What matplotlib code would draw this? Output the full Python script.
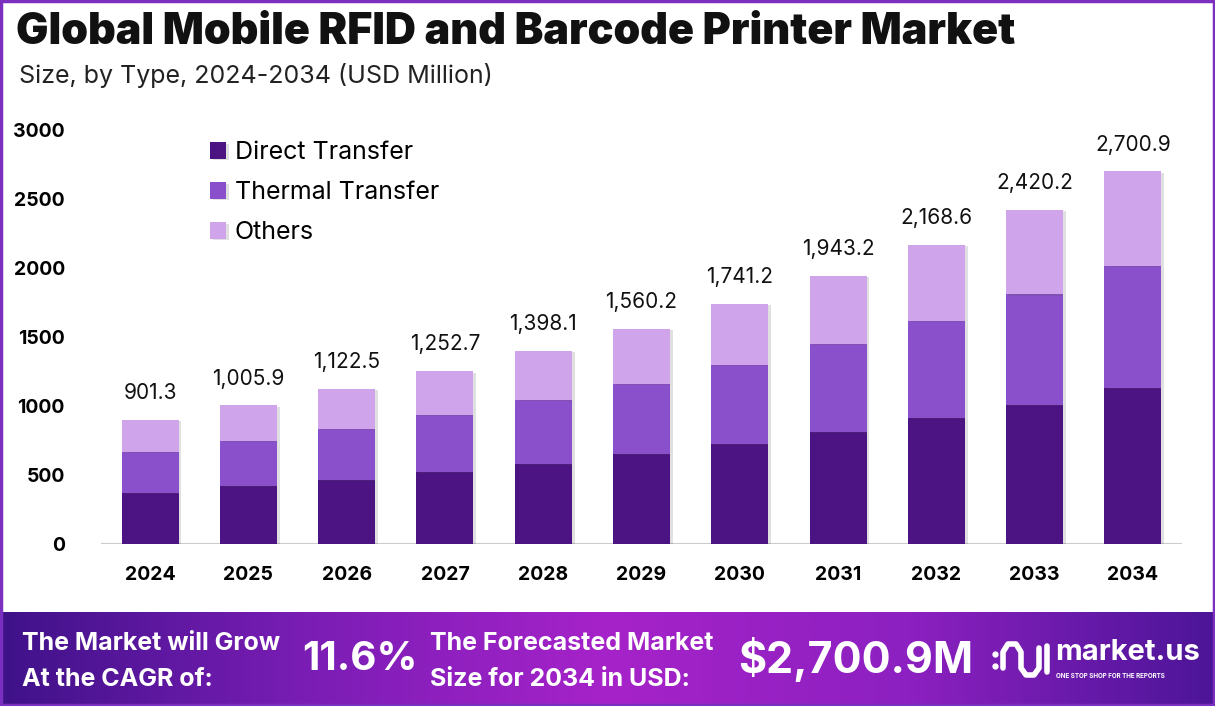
import matplotlib
matplotlib.use("Agg")
import matplotlib.pyplot as plt
import numpy as np
from matplotlib.colors import LinearSegmentedColormap
from matplotlib.patches import Rectangle
import matplotlib.patheffects as pe

years = ["2024", "2025", "2026", "2027", "2028", "2029", "2030", "2031", "2032", "2033", "2034"]
direct = [370, 420, 464, 522, 580, 652, 725, 812, 913, 1008, 1131]
thermal = [297, 327, 370, 416, 464, 508, 573, 638, 706, 802, 884]
others = [234.3, 258.9, 288.5, 314.7, 354.1, 400.2, 443.2, 493.2, 549.6, 610.2, 685.9]
totals = [901.3, 1005.9, 1122.5, 1252.7, 1398.1, 1560.2, 1741.2, 1943.2, 2168.6, 2420.2, 2700.9]
series_names = ["Direct Transfer", "Thermal Transfer", "Others"]
colors = ["#4B1482", "#8A4FCB", "#CFA4EA"]
yticks = [0, 500, 1000, 1500, 2000, 2500, 3000]

FONT = ["Inter", "DejaVu Sans"]
plt.rcParams["font.family"] = FONT

W, H = 1215, 706
fig = plt.figure(figsize=(W / 100, H / 100), dpi=100)
fig.patch.set_facecolor("white")

ax = fig.add_axes([101 / W, 1 - 544 / H, 1081 / W, 414 / H])
x = np.arange(len(years))
shadow = [pe.SimplePatchShadow(offset=(2, -1), alpha=0.18, shadow_rgbFace="#555555"), pe.Normal()]
b1 = ax.bar(x, direct, width=0.58, color=colors[0], label=series_names[0], zorder=3)
b2 = ax.bar(x, thermal, width=0.58, bottom=direct, color=colors[1], label=series_names[1], zorder=3)
bottom2 = np.array(direct) + np.array(thermal)
b3 = ax.bar(x, others, width=0.58, bottom=bottom2, color=colors[2], label=series_names[2], zorder=3)
for bars in (b1, b2, b3):
    for p in bars:
        p.set_path_effects(shadow)

for xi, t in zip(x, totals):
    ax.annotate(f"{t:,.1f}", (xi, t), xytext=(0, 12), textcoords="offset points",
                ha="center", va="bottom", fontsize=15, color="#111111")

ax.set_xlim(-0.5, len(years) - 0.5)
ax.set_ylim(0, 3000)
ax.set_yticks(yticks)
ax.set_yticklabels([str(v) for v in yticks], fontsize=14, fontweight="bold")
ax.set_xticks(x)
ax.set_xticklabels(years, fontsize=14, fontweight="bold")
ax.tick_params(axis="y", length=0, pad=26)
ax.tick_params(axis="x", length=0, pad=16)
for s in ax.spines.values():
    s.set_visible(False)
ax.axhline(0, color="#cccccc", lw=1.5, zorder=2)
ax.set_facecolor("none")

leg = ax.legend(loc="upper left", bbox_to_anchor=(0.08, 1.027), frameon=False, fontsize=18,
                handlelength=0.65, handleheight=0.65, handletextpad=0.35, labelspacing=0.68)

fig.text(16 / W, 1 - 33 / H, "Global Mobile RFID and Barcode Printer Market", fontsize=31,
         fontweight=900, ha="left", va="center", color="#111111")
fig.text(19 / W, 1 - 76 / H, "Size, by Type, 2024-2034 (USD Million)", fontsize=18,
         ha="left", va="center", color="#222222")

# footer banner
fax = fig.add_axes([0, 0, 1, 94 / H])
fax.set_axis_off()
cmap = LinearSegmentedColormap.from_list("ban", ["#3F1289", "#7A1DB5", "#A623C9", "#8C20C0", "#4C1598"])
grad = np.linspace(0, 1, 512).reshape(1, -1)
fax.imshow(grad, aspect="auto", cmap=cmap, extent=[0, 1, 0, 1])
fax.set_xlim(0, 1)
fax.set_ylim(0, 1)

def ftxt(xp, yp, s, size, **kw):
    fig.text(xp / W, 1 - yp / H, s, fontsize=size, color="white", fontweight="bold",
             ha="left", va="center", **kw)

ftxt(22, 643, "The Market will Grow", 18)
ftxt(22, 679, "At the CAGR of:", 18)
ftxt(302, 659, "11.6%", 29)
ftxt(430, 643, "The Forecasted Market", 18)
ftxt(430, 679, "Size for 2034 in USD:", 18)
ftxt(738, 659, "$2,700.9M", 31)
ftxt(1055, 653, "market.us", 21)
ftxt(1056, 676, "ONE STOP SHOP FOR THE REPORTS", 4.5)

# logo mark
lx = np.array([1003, 1003, 1008, 1016, 1021, 1021, 1021, 1026, 1034, 1039, 1039])
ly = np.array([668, 652, 644, 644, 652, 660, 668, 675, 675, 668, 648])
fig.add_artist(plt.Line2D(lx / W, 1 - ly / H, color="white", lw=4, solid_capstyle="round",
                          solid_joinstyle="round"))
fig.add_artist(plt.Line2D([1047 / W, 1047 / W], [1 - 646 / H, 1 - 672 / H], color="white", lw=4,
                          solid_capstyle="round"))
for yy in (654, 666):
    fig.add_artist(plt.Line2D([995 / W], [1 - yy / H], marker="o", ms=3.5, color="white", lw=0))

# outer border
fig.add_artist(Rectangle((0.001, 0.001), 0.998, 0.998, transform=fig.transFigure, fill=False,
                         edgecolor="#7B2FBF", lw=2.5))

fig.savefig("out.png", dpi=100)
